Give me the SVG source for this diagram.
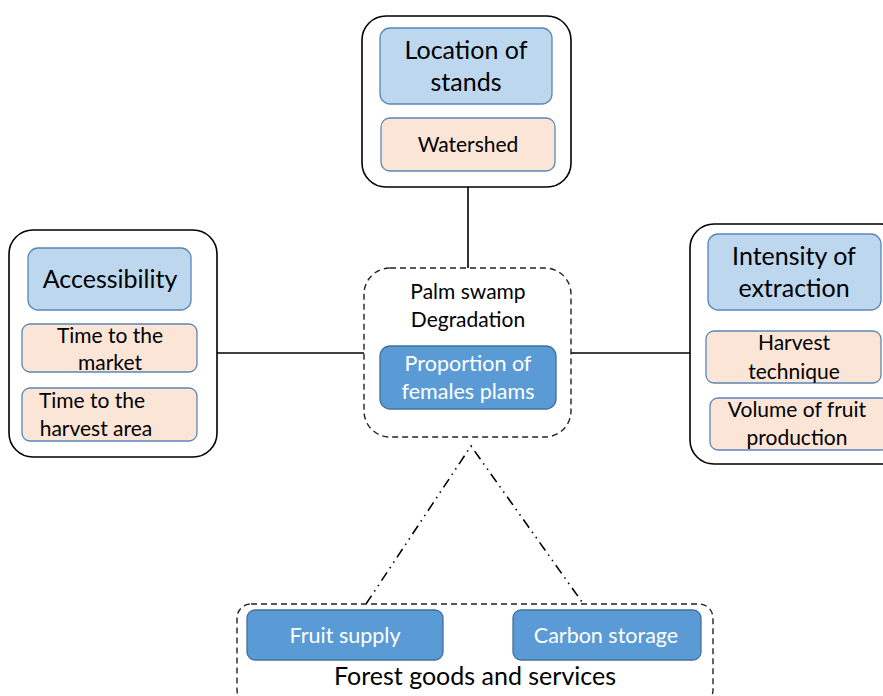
<svg xmlns="http://www.w3.org/2000/svg" width="883" height="696" viewBox="0 0 883 696">
<style>
.outer{fill:#fff;stroke:#000;stroke-width:1.6}
.dash{fill:#fff;stroke:#222;stroke-width:1.4;stroke-dasharray:6 4}
.lb{fill:#BDD7EE;stroke:#5A86B6;stroke-width:1.3}
.pe{fill:#FBE5D6;stroke:#5A86B6;stroke-width:1.3}
.db{fill:#5B9BD5;stroke:#41719C;stroke-width:1.3}
text{font-family:Lato,"Open Sans","Liberation Sans",sans-serif;text-anchor:middle;fill:#000}
.h{font-size:25px}
.s{font-size:21px}
.w{fill:#fff;font-size:21.5px}
.con{stroke:#000;stroke-width:1.6;fill:none}
.dd{stroke:#000;stroke-width:1.6;fill:none;stroke-dasharray:10 5 1.5 5 1.5 5}
</style>
<rect width="883" height="696" fill="#fff"/>
<g id="connectors">
<line class="con" x1="468" y1="187" x2="468" y2="268"/>
<line class="con" x1="217" y1="353" x2="364" y2="353"/>
<line class="con" x1="571" y1="353" x2="690" y2="353"/>
<polyline class="dd" points="366,604 471,446 582,602"/>
</g>
<g id="location">
<rect class="outer" x="362" y="16" width="209" height="171" rx="24"/>
<rect class="lb" x="380" y="28" width="172" height="76" rx="10"/>
<text class="h" x="466" y="59">Location of</text>
<text class="h" x="466" y="91">stands</text>
<rect class="pe" x="381" y="118" width="174" height="53" rx="9"/>
<text class="s" x="468" y="152">Watershed</text>
</g>
<g id="accessibility">
<rect class="outer" x="9" y="230" width="208" height="227" rx="24"/>
<rect class="lb" x="28" y="248" width="163" height="62" rx="10"/>
<text class="h" x="110" y="288">Accessibility</text>
<rect class="pe" x="22" y="324" width="175" height="48" rx="8"/>
<text class="s" x="110" y="343">Time to the</text>
<text class="s" x="110" y="370">market</text>
<rect class="pe" x="22" y="388" width="175" height="53" rx="8"/>
<text class="s" x="92" y="408">Time to the</text>
<text class="s" x="96" y="436">harvest area</text>
</g>
<g id="intensity">
<rect class="outer" x="690" y="224" width="215" height="240" rx="24"/>
<rect class="lb" x="708" y="234" width="173" height="76" rx="10"/>
<text class="h" x="794" y="265">Intensity of</text>
<text class="h" x="794" y="297">extraction</text>
<rect class="pe" x="706" y="331" width="175" height="52" rx="8"/>
<text class="s" x="794" y="350">Harvest</text>
<text class="s" x="794" y="379">technique</text>
<rect class="pe" x="710" y="398" width="180" height="52" rx="8"/>
<text class="s" x="797" y="417">Volume of fruit</text>
<text class="s" x="797" y="445">production</text>
</g>
<g id="degradation">
<rect class="dash" x="364" y="268" width="207" height="169" rx="26"/>
<text class="s" x="468" y="299">Palm swamp</text>
<text class="s" x="468" y="327">Degradation</text>
<rect class="db" x="380" y="346" width="176" height="63" rx="10"/>
<text class="w" x="468" y="371">Proportion of</text>
<text class="w" x="468" y="399">females plams</text>
</g>
<g id="forest">
<rect class="dash" x="237" y="604" width="476" height="100" rx="14"/>
<rect class="db" x="247" y="610" width="196" height="50" rx="8"/>
<text class="w" x="345" y="643">Fruit supply</text>
<rect class="db" x="513" y="610" width="188" height="50" rx="8"/>
<text class="w" x="606" y="643">Carbon storage</text>
<text class="h" x="475" y="685">Forest goods and services</text>
</g>
</svg>
